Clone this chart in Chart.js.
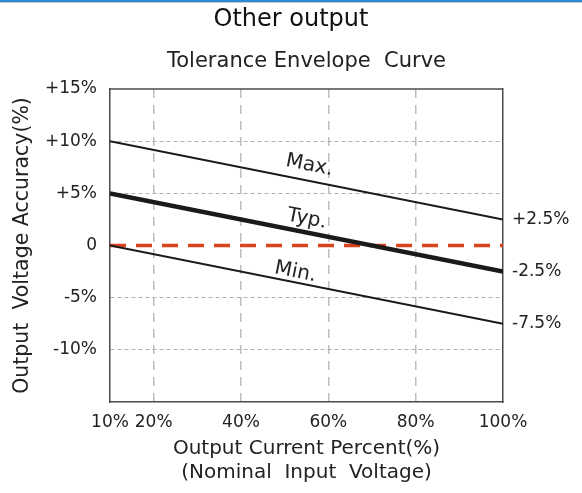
<!DOCTYPE html>
<html>
<head>
<meta charset="utf-8">
<script src="https://cdn.jsdelivr.net/npm/chart.js@4/dist/chart.umd.min.js"></script>
<style>
  body { margin: 0; background: #fff; }
  #wrap { position: relative; width: 582px; height: 493px; }
  #bar { position: absolute; left: 0; top: 0; width: 582px; height: 2px; background: #2a8ad6; border-bottom: 1px solid #c8c8c8; }
</style>
</head>
<body>
<div id="wrap">
  <canvas id="tolerance" width="582" height="493"></canvas>
  <div id="bar"></div>
</div>
<script>
// load percent (x) and accuracy (y)
const loadPct = [10, 100];
const maxAcc = [10, 2.5];
const typAcc = [5, -2.5];
const minAcc = [0, -7.5];
const zeroRef = [0, 0];

const lineNames = ['Max.', 'Typ.', 'Min.'];
const xTicks = [10, 20, 40, 60, 80, 100];
const yTicks = [15, 10, 5, 0, -5, -10];
const yTickLabels = ['+15%', '+10%', '+5%', '0', '-5%', '-10%'];
const rightTicks = [2.5, -2.5, -7.5];
const rightTickLabels = ['+2.5%', '-2.5%', '-7.5%'];

const FONT = 'DejaVu Sans';
const INK = '#222';

const pts = (ys) => loadPct.map((x, i) => ({ x: x, y: ys[i] }));

// frame top edge + rotated Max./Typ./Min. tags along the lines
const extras = {
  id: 'extras',
  afterDatasetsDraw(chart) {
    const { ctx, chartArea, scales } = chart;
    ctx.save();
    ctx.strokeStyle = '#4a4a4a';
    ctx.lineWidth = 1.5;
    ctx.beginPath();
    ctx.moveTo(chartArea.left, chartArea.top);
    ctx.lineTo(chartArea.right, chartArea.top);
    ctx.stroke();

    const anchors = [55, 54.5, 52];
    const gaps = [10, 8, 5];
    [maxAcc, typAcc, minAcc].forEach((ys, i) => {
      const x0 = scales.x.getPixelForValue(loadPct[0]);
      const x1 = scales.x.getPixelForValue(loadPct[1]);
      const y0 = scales.y.getPixelForValue(ys[0]);
      const y1 = scales.y.getPixelForValue(ys[1]);
      const ang = Math.atan2(y1 - y0, x1 - x0);
      const t = (anchors[i] - loadPct[0]) / (loadPct[1] - loadPct[0]);
      const px = x0 + (x1 - x0) * t;
      const py = y0 + (y1 - y0) * t;
      ctx.save();
      ctx.translate(px, py);
      ctx.rotate(ang);
      ctx.fillStyle = INK;
      ctx.font = '20px "' + FONT + '"';
      ctx.textAlign = 'center';
      ctx.textBaseline = 'alphabetic';
      ctx.fillText(lineNames[i], 0, -gaps[i]);
      ctx.restore();
    });
    ctx.restore();
  }
};

new Chart(document.getElementById('tolerance'), {
  type: 'line',
  data: {
    datasets: [
      { label: 'Zero', data: pts(zeroRef), borderColor: '#d9441c', borderWidth: 3.5, borderDash: [16, 10], pointRadius: 0, order: 3 },
      { label: lineNames[0], data: pts(maxAcc), borderColor: '#1a1a1a', borderWidth: 2, pointRadius: 0, order: 1 },
      { label: lineNames[1], data: pts(typAcc), borderColor: '#1a1a1a', borderWidth: 4.5, pointRadius: 0, order: 1 },
      { label: lineNames[2], data: pts(minAcc), borderColor: '#1a1a1a', borderWidth: 2, pointRadius: 0, order: 1 }
    ]
  },
  options: {
    responsive: false,
    animation: false,
    layout: { padding: { top: 4, left: 0, right: 0, bottom: 0 } },
    plugins: {
      legend: { display: false },
      tooltip: { enabled: false },
      title: {
        display: true,
        text: 'Other output',
        color: '#111',
        font: { family: FONT, size: 24, weight: 'normal' },
        padding: { top: 1, bottom: 6 }
      },
      subtitle: {
        display: true,
        text: 'Tolerance Envelope  Curve',
        color: INK,
        fullSize: false,
        font: { family: FONT, size: 21, weight: 'normal' },
        padding: { top: 9, bottom: 15 }
      }
    },
    scales: {
      x: {
        type: 'linear',
        min: 10,
        max: 100,
        afterBuildTicks: (axis) => { axis.ticks = xTicks.map((v) => ({ value: v })); },
        afterFit: (axis) => { axis.height = 91; },
        ticks: {
          color: INK,
          padding: 10,
          maxRotation: 0,
          font: { family: FONT, size: 17 },
          callback: (v) => v + '%'
        },
        grid: {
          drawTicks: false,
          lineWidth: 1.5,
          color: (c) => (c.tick && (c.tick.value === 10 || c.tick.value === 100)) ? 'rgba(0,0,0,0)' : '#bdbdbd'
        },
        border: { display: true, color: '#4a4a4a', width: 1.5, dash: [9, 7] },
        title: {
          display: true,
          text: ['Output Current Percent(%)', '(Nominal  Input  Voltage)'],
          color: INK,
          font: { family: FONT, size: 20, lineHeight: 1.2 },
          padding: { top: 0, bottom: 8 }
        }
      },
      y: {
        type: 'linear',
        position: 'left',
        min: -15,
        max: 15,
        afterBuildTicks: (axis) => { axis.ticks = yTicks.map((v) => ({ value: v })); },
        afterFit: (axis) => { axis.width = 110; },
        ticks: {
          color: INK,
          padding: 13,
          font: { family: FONT, size: 17 },
          callback: (v) => yTickLabels[yTicks.indexOf(v)]
        },
        grid: {
          drawTicks: false,
          lineWidth: 1,
          color: (c) => (c.tick && (c.tick.value === 15 || c.tick.value === 0)) ? 'rgba(0,0,0,0)' : '#b0b0b0'
        },
        border: { display: true, color: '#4a4a4a', width: 1.5, dash: [4, 3] },
        title: {
          display: true,
          text: 'Output  Voltage Accuracy(%)',
          color: INK,
          font: { family: FONT, size: 20.5 },
          padding: { top: 10, bottom: 0 }
        }
      },
      y2: {
        type: 'linear',
        position: 'right',
        min: -15,
        max: 15,
        afterBuildTicks: (axis) => { axis.ticks = rightTicks.map((v) => ({ value: v })); },
        afterFit: (axis) => { axis.width = 79; },
        ticks: {
          color: INK,
          padding: 9,
          font: { family: FONT, size: 17 },
          callback: (v) => rightTickLabels[rightTicks.indexOf(v)]
        },
        grid: { display: false, drawTicks: false },
        border: { display: true, color: '#4a4a4a', width: 1.5 }
      }
    }
  },
  plugins: [extras]
});
</script>
</body>
</html>
